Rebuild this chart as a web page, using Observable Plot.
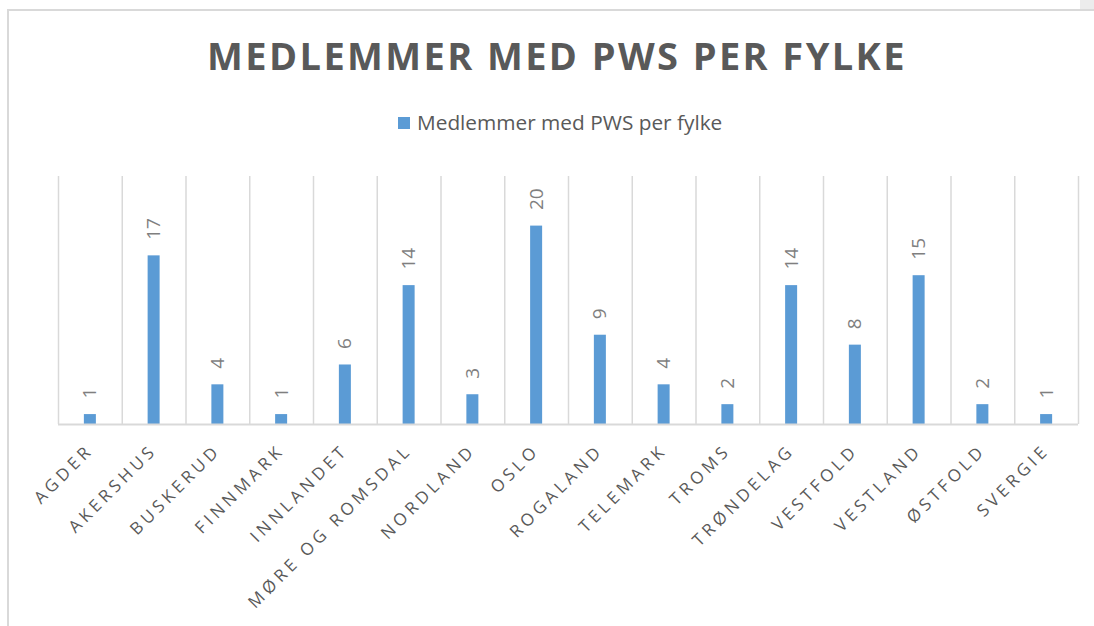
<!DOCTYPE html>
<html>
<head>
<meta charset="utf-8">
<script src="https://cdn.jsdelivr.net/npm/d3@7"></script>
<script src="https://cdn.jsdelivr.net/npm/@observablehq/plot@0.6"></script>
<style>
  html, body { margin: 0; padding: 0; background: #fff; }
  #wrap { position: relative; width: 1094px; height: 626px; overflow: hidden; font-family: "Open Sans", sans-serif; }
  #frame { position: absolute; left: 7px; top: 9px; width: 1100px; height: 700px; border-top: 2px solid #d9d9d9; border-left: 2px solid #d9d9d9; }
  #corner { position: absolute; left: 1080px; top: 0; width: 14px; height: 9px; background: #ececec; }
  #title { position: absolute; left: 557px; top: 36px; transform: translateX(-50%); white-space: nowrap; font-size: 38px; line-height: 38px; font-weight: 700; letter-spacing: 2.4px; color: #595959; }
  #legend { position: absolute; left: 398px; top: 112px; display: flex; align-items: center; white-space: nowrap; font-size: 20.8px; line-height: 20px; color: #595959; }
  #legend .sw { width: 12px; height: 12px; background: #5b9bd5; margin-right: 7px; margin-top: 2px; }
  #chart { position: absolute; left: 0; top: 150px; }
  g[aria-label="x-axis tick label"] text { letter-spacing: 4px; }
</style>
</head>
<body>
<div id="wrap">
  <div id="frame"></div>
  <div id="corner"></div>
  <div id="title">MEDLEMMER MED PWS PER FYLKE</div>
  <div id="legend"><div class="sw"></div><span id="legendText"></span></div>
  <div id="chart"></div>
</div>
<script>
const seriesName = "Medlemmer med PWS per fylke";
const categories = ["AGDER","AKERSHUS","BUSKERUD","FINNMARK","INNLANDET","MØRE OG ROMSDAL","NORDLAND","OSLO","ROGALAND","TELEMARK","TROMS","TRØNDELAG","VESTFOLD","VESTLAND","ØSTFOLD","SVERGIE"];
const values = [1,17,4,1,6,14,3,20,9,4,2,14,8,15,2,1];

document.getElementById("legendText").textContent = seriesName;

const data = categories.map((c, i) => ({fylke: c, antall: values[i]}));

const W = 1094, H = 476, mL = 58, mR = 16, mT = 26, mB = 202;
const bw = (W - mL - mR) / categories.length;

const chart = Plot.plot({
  width: W,
  height: H,
  marginLeft: mL,
  marginRight: mR,
  marginTop: mT,
  marginBottom: mB,
  style: {fontFamily: "Open Sans, sans-serif", background: "transparent"},
  x: {type: "band", domain: categories, padding: 0, round: false, label: null},
  y: {domain: [0, 25], axis: null},
  marks: [
    Plot.ruleX(categories, {x: d => d, y1: 0, y2: 25, dx: -bw / 2, stroke: "#d9d9d9", strokeWidth: 1.5}),
    Plot.ruleX([categories[categories.length - 1]], {x: d => d, y1: 0, y2: 25, dx: bw / 2, stroke: "#d9d9d9", strokeWidth: 1.5}),
    Plot.barY(data, {x: "fylke", y: "antall", fill: "#5b9bd5", insetLeft: (bw - 12) / 2, insetRight: (bw - 12) / 2}),
    Plot.ruleY([0], {stroke: "#d9d9d9", strokeWidth: 2}),
    Plot.text(data, {x: "fylke", y: "antall", text: d => String(d.antall), rotate: -90, textAnchor: "start", dy: -16, fontSize: 19, fill: "#7f7f7f"}),
    Plot.axisX({tickSize: 0, tickRotate: -45, tickPadding: 23, fontSize: 17, color: "#595959", label: null})
  ]
});
document.getElementById("chart").appendChild(chart);
</script>
</body>
</html>
